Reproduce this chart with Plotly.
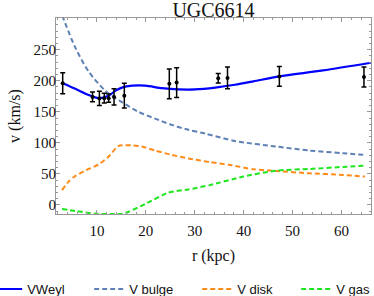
import plotly.graph_objects as go

# Observed rotation curve points
r_obs = [3.0, 9.1, 10.5, 11.5, 12.4, 13.5, 15.6, 24.8, 26.3, 34.8, 36.7, 47.3, 64.6]
v_obs = [196, 174, 171.5, 172, 172, 174, 176, 195, 197, 204, 204.5, 207, 206]
v_err = [17, 8, 11.5, 8, 6.5, 13, 20, 24, 24, 7.5, 17.5, 16, 16]

# Model curves
r_weyl = [3.0, 5.6, 8.3, 10.3, 12.4, 13.8, 15.1, 17.2, 19.9, 23.3, 26.7, 30.1, 34.2, 38.2, 42.0, 47.3, 56.2, 66.0]
v_weyl = [196, 187, 177, 172, 176, 184, 189, 192, 192, 188, 186, 186, 189, 193.5, 199, 207, 216.6, 229]

r_bulge = [2.9, 5.6, 8.3, 11.7, 15.1, 18.5, 21.9, 25.3, 28.7, 32.1, 38.2, 46.7, 53.5, 60.3, 64.8]
v_bulge = [305, 253, 215, 184, 165.6, 150, 139, 129, 121, 115, 103, 94, 87.6, 83.4, 80.6]

r_disk = [2.85, 4.2, 5.6, 7.6, 10.3, 12.4, 14.4, 17.1, 19.2, 21.9, 25.3, 28.7, 33.1, 37.2, 42.0, 46.7, 53.5, 60.3, 64.8]
v_disk = [24, 37.6, 46.8, 55.4, 65, 78, 95, 96, 94, 87.6, 80.6, 75, 69, 64.5, 57.5, 54.8, 51, 48.4, 45.7]

r_gas = [2.85, 5.6, 9.7, 15.2, 16.5, 19.9, 24.6, 28.7, 33.1, 39.9, 46.7, 53.5, 60.3, 64.8]
v_gas = [-6.5, -9.7, -14, -14, -10.8, 1.6, 20, 25, 32, 45.7, 55.4, 58, 61.3, 63.4]

series_names = ["VWeyl", "V bulge", "V disk", "V gas"]
x_ticks = [10, 20, 30, 40, 50, 60]
y_ticks = [0, 50, 100, 150, 200, 250]

dash = "5px,3px"
fig = go.Figure()
fig.add_trace(go.Scatter(x=r_weyl, y=v_weyl, mode="lines", name=series_names[0], legend="legend",
                         line=dict(color="#0000FF", width=2.2, shape="spline", smoothing=0.8)))
fig.add_trace(go.Scatter(x=r_bulge, y=v_bulge, mode="lines", name=series_names[1], legend="legend2",
                         line=dict(color="#5E81B5", width=2, dash=dash, shape="spline", smoothing=0.8)))
fig.add_trace(go.Scatter(x=r_disk, y=v_disk, mode="lines", name=series_names[2], legend="legend3",
                         line=dict(color="#FF8C1A", width=2, dash=dash, shape="spline", smoothing=0.6)))
fig.add_trace(go.Scatter(x=r_gas, y=v_gas, mode="lines", name=series_names[3], legend="legend4",
                         line=dict(color="#1EE61E", width=2, dash=dash, shape="spline", smoothing=0.6)))
fig.add_trace(go.Scatter(x=r_obs, y=v_obs, mode="markers", showlegend=False,
                         marker=dict(color="black", size=4),
                         error_y=dict(type="data", array=v_err, visible=True,
                                      color="black", thickness=1.5, width=2.5)))

axis_common = dict(showline=True, linecolor="#999999", linewidth=1, mirror="ticks",
                   ticks="inside", tickcolor="#999999", ticklen=4, showgrid=False,
                   zeroline=False,
                   tickfont=dict(family="Liberation Serif", size=15, color="#111"))


def legend_at(x):
    return dict(orientation="h", x=x, xanchor="left", y=-0.383, yanchor="middle",
                font=dict(family="Liberation Sans", size=13, color="#111"),
                bgcolor="rgba(0,0,0,0)", itemwidth=30)


fig.update_layout(
    width=374, height=296,
    margin=dict(l=56, r=3, t=18, b=82, autoexpand=False),
    paper_bgcolor="white", plot_bgcolor="white",
    title=dict(text="UGC6614", xref="paper", x=0.5, xanchor="center", y=0.965, yanchor="middle",
               font=dict(family="Liberation Serif", size=20, color="#111")),
    xaxis=dict(range=[1.63, 66.04], tickvals=x_ticks, ticklabelstandoff=3,
               minor=dict(dtick=2, ticklen=2, ticks="inside", tickcolor="#999999", tick0=0),
               title=dict(text="r (kpc)", font=dict(family="Liberation Serif", size=16, color="#111"), standoff=11),
               **axis_common),
    yaxis=dict(range=[-14.5, 301], tickvals=y_ticks, ticklabelstandoff=-4,
               minor=dict(dtick=10, ticklen=2, ticks="inside", tickcolor="#999999", tick0=0),
               title=dict(text="v (km/s)", font=dict(family="Liberation Serif", size=16, color="#111"), standoff=8),
               **axis_common),
    showlegend=True,
    legend=legend_at(-0.2184),
    legend2=legend_at(0.1054),
    legend3=legend_at(0.4483),
    legend4=legend_at(0.7625),
)

fig.write_html("out.html", config={"displayModeBar": False},
               post_script="document.body.style.margin='0';")
